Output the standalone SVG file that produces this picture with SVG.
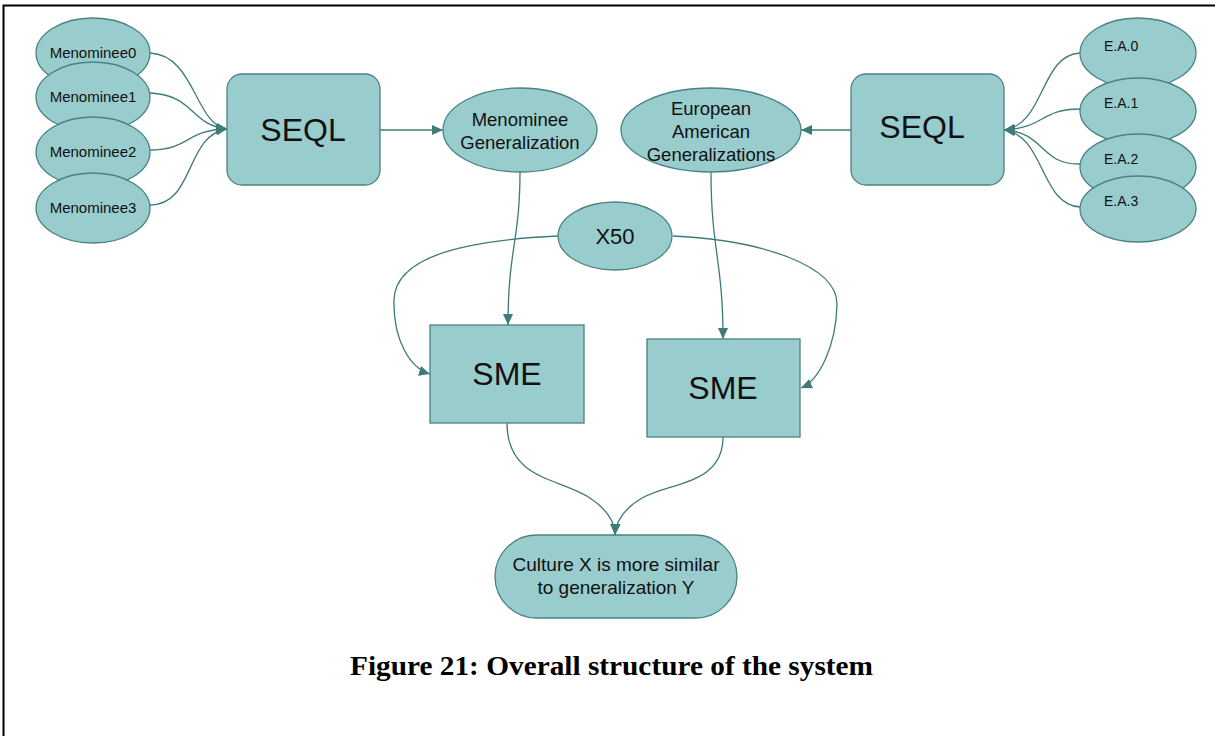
<svg xmlns="http://www.w3.org/2000/svg" width="1215" height="736" viewBox="0 0 1215 736">
<style>
.n{fill:#99cccc;stroke:#4a8282;stroke-width:1.3}
.t{font-family:"Liberation Sans",Arial,sans-serif;fill:#111;text-anchor:middle}
.s{font-size:15px}
.e{font-size:14px;text-anchor:start}
.m{font-size:18.5px}
.b{font-size:32px}
.c{fill:none;stroke:#3f7a7a;stroke-width:1.3;marker-end:url(#ah)}
</style>
<defs>
<marker id="ah" markerUnits="userSpaceOnUse" markerWidth="12" markerHeight="10" refX="11" refY="5" orient="auto">
<path d="M0,0 L11,5 L0,10 Z" fill="#3f7a7a"/>
</marker>
</defs>
<rect width="1215" height="736" fill="#fff"/>
<path d="M3.5,736 V5.5 H1215" fill="none" stroke="#000" stroke-width="2"/>

<g id="connectors">
<path class="c" d="M150,53 C195,55 195,125 227,129"/>
<path class="c" d="M150,93 C195,95 190,125 227,129"/>
<path class="c" d="M150,150 C190,150 185,130 227,129"/>
<path class="c" d="M150,205 C195,205 185,135 227,129"/>
<path class="c" d="M380,130 L443,130"/>
<path class="c" d="M851,130 L801,130"/>
<path class="c" d="M1080,53 C1040,55 1045,125 1004,130"/>
<path class="c" d="M1080,109 C1040,109 1045,128 1004,130"/>
<path class="c" d="M1080,164 C1040,165 1045,132 1004,130"/>
<path class="c" d="M1080,207 C1040,205 1045,135 1004,130"/>
<path class="c" d="M520,172 C520,240 508,250 508,325"/>
<path class="c" d="M711,172 C711,250 723,260 723,339"/>
<path class="c" d="M558,236 C470,240 395,255 394,300 C393,340 410,368 430,374"/>
<path class="c" d="M673,236 C760,240 838,265 837,305 C836,345 820,380 801,388"/>
<path class="c" d="M507,423 C507,480 560,478 590,498 C605,508 615,520 615,535"/>
<path class="c" d="M723,437 C723,485 670,482 642,498 C625,508 616,520 615,535"/>
</g>

<g id="menominee0"><ellipse class="n" cx="93" cy="53" rx="57" ry="35"/><text class="t s" x="93" y="58">Menominee0</text></g>
<g id="menominee1"><ellipse class="n" cx="93" cy="97" rx="57" ry="35"/><text class="t s" x="93" y="102">Menominee1</text></g>
<g id="menominee2"><ellipse class="n" cx="93" cy="152" rx="57" ry="35"/><text class="t s" x="93" y="157">Menominee2</text></g>
<g id="menominee3"><ellipse class="n" cx="93" cy="208" rx="57" ry="35"/><text class="t s" x="93" y="213">Menominee3</text></g>

<g id="seql-left"><rect class="n" x="227" y="74" width="153" height="111" rx="15"/><text class="t b" x="303" y="141">SEQL</text></g>
<g id="menominee-generalization"><ellipse class="n" cx="520" cy="130" rx="77" ry="42"/><text class="t m" x="520" y="126">Menominee</text><text class="t m" x="520" y="149">Generalization</text></g>
<g id="european-american-generalizations"><ellipse class="n" cx="711" cy="130" rx="90" ry="42"/><text class="t m" x="711" y="115">European</text><text class="t m" x="711" y="138">American</text><text class="t m" x="711" y="161">Generalizations</text></g>
<g id="seql-right"><rect class="n" x="851" y="74" width="153" height="111" rx="15"/><text class="t b" x="922" y="138">SEQL</text></g>

<g id="ea0"><ellipse class="n" cx="1138" cy="53" rx="58" ry="35"/><text class="t e" x="1104" y="51">E.A.0</text></g>
<g id="ea1"><ellipse class="n" cx="1138" cy="111" rx="58" ry="33"/><text class="t e" x="1104" y="108">E.A.1</text></g>
<g id="ea2"><ellipse class="n" cx="1138" cy="167" rx="58" ry="33"/><text class="t e" x="1104" y="164">E.A.2</text></g>
<g id="ea3"><ellipse class="n" cx="1138" cy="209" rx="58" ry="33"/><text class="t e" x="1104" y="206">E.A.3</text></g>

<g id="x50"><ellipse class="n" cx="615" cy="236" rx="57" ry="34"/><text class="t" style="font-size:22px" x="615" y="244">X50</text></g>
<g id="sme-left"><rect class="n" x="430" y="325" width="154" height="98"/><text class="t b" x="507" y="385">SME</text></g>
<g id="sme-right"><rect class="n" x="647" y="339" width="153" height="98"/><text class="t b" x="723" y="399">SME</text></g>
<g id="culture"><rect class="n" x="495" y="535" width="242" height="83" rx="41.5"/><text class="t" style="font-size:19px" x="616" y="571">Culture X is more similar</text><text class="t" style="font-size:19px" x="616" y="594">to generalization Y</text></g>

<text x="611.5" y="675" text-anchor="middle" style="font-family:'Liberation Serif','Times New Roman',serif;font-weight:bold;font-size:27px" textLength="523" lengthAdjust="spacingAndGlyphs">Figure 21: Overall structure of the system</text>
</svg>
